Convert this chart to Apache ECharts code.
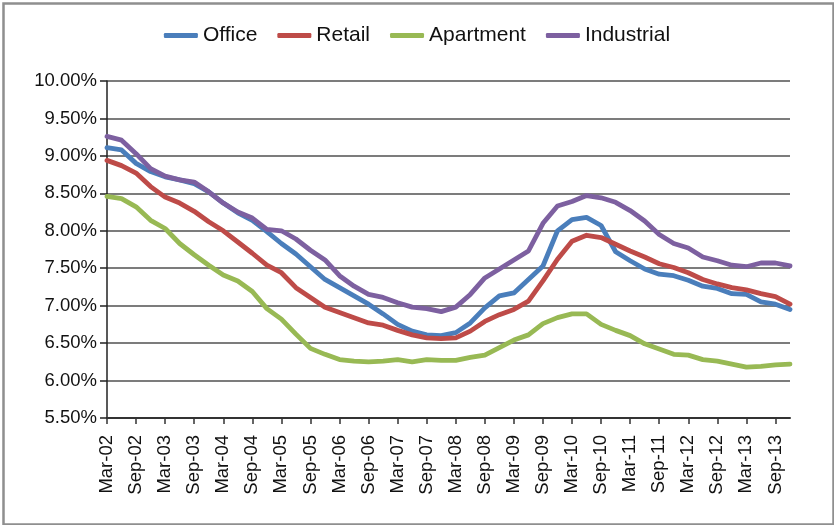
<!DOCTYPE html>
<html>
<head>
<meta charset="utf-8">
<script src="https://cdn.jsdelivr.net/npm/echarts@6/dist/echarts.min.js"></script>
<style>
html,body{margin:0;padding:0;background:#fff;}
#chart{width:834px;height:525px;}
</style>
</head>
<body>
<div id="chart"></div>
<script>
// Quarterly categories Mar-02 .. Dec-13
var categories = [
 'Mar-02','Jun-02','Sep-02','Dec-02','Mar-03','Jun-03','Sep-03','Dec-03',
 'Mar-04','Jun-04','Sep-04','Dec-04','Mar-05','Jun-05','Sep-05','Dec-05',
 'Mar-06','Jun-06','Sep-06','Dec-06','Mar-07','Jun-07','Sep-07','Dec-07',
 'Mar-08','Jun-08','Sep-08','Dec-08','Mar-09','Jun-09','Sep-09','Dec-09',
 'Mar-10','Jun-10','Sep-10','Dec-10','Mar-11','Jun-11','Sep-11','Dec-11',
 'Mar-12','Jun-12','Sep-12','Dec-12','Mar-13','Jun-13','Sep-13','Dec-13'
];
var office = [9.11,9.08,8.90,8.79,8.72,8.68,8.63,8.52,8.37,8.24,8.14,7.99,
 7.83,7.69,7.52,7.35,7.24,7.13,7.02,6.89,6.75,6.66,6.61,6.60,
 6.64,6.77,6.97,7.13,7.17,7.35,7.53,8.00,8.15,8.18,8.07,7.72,
 7.60,7.49,7.42,7.40,7.34,7.26,7.23,7.16,7.15,7.05,7.02,6.95];
var retail = [8.94,8.87,8.77,8.59,8.45,8.37,8.26,8.12,8.00,7.85,7.70,7.54,
 7.44,7.24,7.11,6.98,6.91,6.84,6.77,6.74,6.67,6.61,6.57,6.56,
 6.57,6.66,6.79,6.88,6.95,7.06,7.33,7.62,7.86,7.94,7.91,7.82,
 7.73,7.65,7.56,7.51,7.44,7.35,7.29,7.24,7.21,7.16,7.12,7.02];
var apartment = [8.46,8.43,8.32,8.14,8.03,7.83,7.68,7.54,7.41,7.33,7.19,6.96,
 6.82,6.62,6.43,6.35,6.28,6.26,6.25,6.26,6.28,6.25,6.28,6.27,
 6.27,6.31,6.34,6.44,6.54,6.61,6.76,6.84,6.89,6.89,6.75,6.67,
 6.60,6.49,6.42,6.35,6.34,6.28,6.26,6.22,6.18,6.19,6.21,6.22];
var industrial = [9.26,9.21,9.03,8.83,8.73,8.68,8.65,8.52,8.37,8.25,8.17,8.02,
 8.00,7.89,7.74,7.61,7.40,7.26,7.15,7.11,7.04,6.98,6.96,6.92,
 6.98,7.15,7.37,7.49,7.61,7.73,8.10,8.33,8.39,8.47,8.44,8.38,
 8.27,8.13,7.95,7.83,7.77,7.65,7.60,7.54,7.52,7.57,7.57,7.53];
var seriesNames = ['Office','Retail','Apartment','Industrial'];
var seriesColors = ['#4a7ebb','#be4b48','#98b954','#7d60a0'];

var FONT = '"Liberation Sans", Arial, Helvetica, sans-serif';
var chart = echarts.init(document.getElementById('chart'), null, {renderer:'canvas'});
var dataSets = [office, retail, apartment, industrial];
var series = seriesNames.map(function(n, k){
  return {
    name: n, type: 'line', data: dataSets[k], symbol: 'none',
    lineStyle: {width: 4.8, color: seriesColors[k], cap: 'round', join: 'round'},
    itemStyle: {color: seriesColors[k]},
    animation: false
  };
});
chart.setOption({
  animation: false,
  backgroundColor: '#fff',
  graphic: [{
    type: 'rect', left: 1, top: 1, z: 100,
    shape: {x: 1.25, y: 1.25, width: 830, height: 521},
    style: {fill: 'none', stroke: '#8f8f8f', lineWidth: 2.5}
  }],
  legend: {
    top: 20, left: 'center',
    itemWidth: 34, itemHeight: 5, itemGap: 20,
    icon: 'roundRect',
    textStyle: {fontFamily: FONT, fontSize: 21, color: '#111'},
    data: seriesNames
  },
  grid: {left: 107, top: 81, width: 683, height: 337, containLabel: false},
  xAxis: {
    type: 'category', data: categories, boundaryGap: false,
    axisLine: {lineStyle: {color: '#333', width: 2}},
    axisTick: {interval: 1, length: 6, lineStyle: {color: '#333', width: 1.5}},
    axisLabel: {interval: 1, rotate: 90, margin: 17, fontFamily: FONT, fontSize: 18.5, color: '#111'},
    splitLine: {show: false}
  },
  yAxis: {
    type: 'value', min: 5.5, max: 10, interval: 0.5,
    axisLine: {show: true, lineStyle: {color: '#222', width: 1.5}},
    axisTick: {show: true, length: 7, lineStyle: {color: '#222', width: 1.5}},
    axisLabel: {margin: 10, fontFamily: FONT, fontSize: 18.5, color: '#111',
      formatter: function(v){ return v.toFixed(2) + '%'; }},
    splitLine: {show: true, lineStyle: {color: '#505050', width: 1.5}}
  },
  series: series
});
</script>
</body>
</html>
